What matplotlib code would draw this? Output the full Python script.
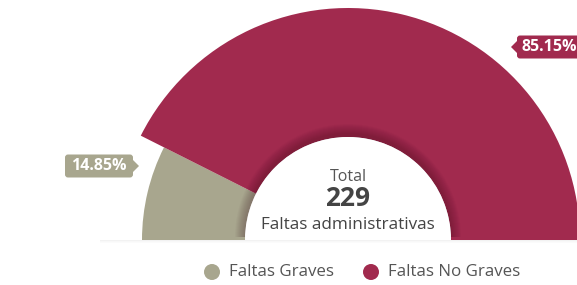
import numpy as np
import matplotlib
matplotlib.use("Agg")
import matplotlib.pyplot as plt
from matplotlib.patches import Wedge, Circle, FancyBboxPatch, Polygon

plt.rcParams["font.family"] = ["Open Sans", "DejaVu Sans"]

# data
categories = ["Faltas Graves", "Faltas No Graves"]
counts = [34, 195]
colors = ["#a8a68e", "#a12a4e"]
total = sum(counts)
center_label = "Faltas administrativas"

fig = plt.figure(figsize=(5.77, 2.85), dpi=100)
ax = fig.add_axes([0, 0, 1, 1])
ax.set_xlim(0, 577); ax.set_ylim(0, 285); ax.axis("off")

cx, cy = 348, 45          # centre of the half donut (pixels, y up)
r_in = 103
radii = [206, 232]         # second slice is drawn enlarged (hover state)

# slices: go from the left (180 deg) clockwise to the right (0 deg)
start = 180.0
for c, col, r in zip(counts, colors, radii):
    span = 180.0 * c / total
    ax.add_patch(Wedge((cx, cy), r, start - span, start, width=r - r_in,
                       facecolor=col, edgecolor="none"))
    start -= span

# soft shadow around the inner hole
for k in range(10):
    ax.add_patch(Wedge((cx, cy + 3), r_in + 10 - k, 0, 180, facecolor="#2a0010",
                       alpha=0.028, edgecolor="none"))
ax.add_patch(Wedge((cx, cy), r_in, 0, 180, facecolor="white", edgecolor="none"))

# faint base line shadow
for k, a in enumerate([0.10, 0.06, 0.03]):
    ax.fill_between([100, 577], cy - k - 1, cy - k, color="#888888", alpha=a, lw=0)

# centre text
ax.text(cx, 285 - 177, "Total", ha="center", va="center", fontsize=11.5, color="#555555")
ax.text(cx, 285 - 199, str(total), ha="center", va="center", fontsize=19,
        fontweight="bold", color="#444444")
ax.text(cx, 285 - 225, center_label, ha="center", va="center", fontsize=12.3, color="#444444")

# percentage callouts
def callout(x0, x1, yc, txt, col, side):
    h = 23
    ax.add_patch(FancyBboxPatch((x0, yc - h / 2), x1 - x0, h,
                                boxstyle="round,pad=0,rounding_size=3",
                                facecolor=col, edgecolor="none"))
    if side == "right":
        tri = [(x1, yc + 6), (x1 + 6, yc), (x1, yc - 6)]
    else:
        tri = [(x0, yc + 6), (x0 - 6, yc), (x0, yc - 6)]
    ax.add_patch(Polygon(tri, closed=True, facecolor=col, edgecolor="none"))
    ax.text((x0 + x1) / 2 if side == "right" else x0 + 5, yc, txt,
            ha="center" if side == "right" else "left", va="center",
            fontsize=11.5, fontweight="bold", color="white")

pct = [f"{c / total * 100:.2f}%" for c in counts]
callout(65, 133, 285 - 166, pct[0], colors[0], "right")
callout(517, 595, 285 - 47, pct[1], colors[1], "left")

# legend
leg_x = [212, 371]
for x, col, lab in zip(leg_x, colors, categories):
    ax.add_patch(Circle((x, 285 - 272), 8, facecolor=col, edgecolor="none"))
    ax.text(x + 17, 285 - 272, lab, ha="left", va="center", fontsize=12.2, color="#555555")

fig.savefig("out.png", dpi=100)
